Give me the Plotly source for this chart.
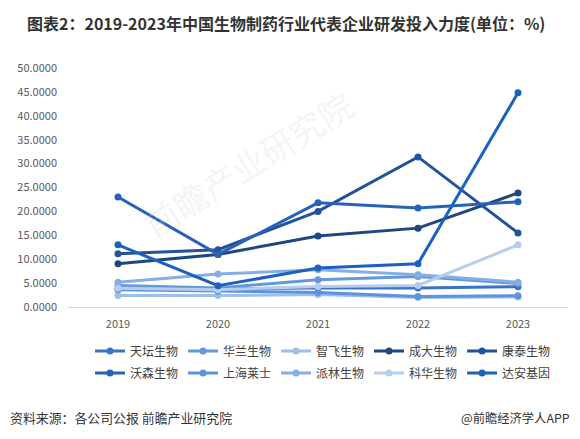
import plotly.graph_objects as go

years = ["2019", "2020", "2021", "2022", "2023"]
companies = ["天坛生物", "华兰生物", "智飞生物", "成大生物", "康泰生物",
             "沃森生物", "上海莱士", "派林生物", "科华生物", "达安基因"]
tiantan = [3.8, 3.8, 4.0, 4.0, 4.25]
hualan = [4.5, 4.0, 5.7, 6.4, 4.9]
zhifei = [2.4, 2.4, 2.6, 2.0, 2.1]
chengda = [9.06, 11.0, 14.85, 16.5, 23.85]
kangtai = [11.15, 12.0, 20.0, 31.4, 15.5]
wosen = [23.0, 11.0, 21.8, 20.7, 22.0]
shanghai = [3.6, 3.3, 3.05, 2.2, 2.35]
pailin = [5.2, 6.9, 7.8, 6.75, 5.2]
kehua = [3.9, 3.6, 4.3, 4.5, 13.0]
daan = [13.0, 4.45, 8.15, 9.06, 44.8]
series = [tiantan, hualan, zhifei, chengda, kangtai, wosen, shanghai, pailin, kehua, daan]
colors = ["#3A73C4", "#6499D8", "#9DC0EA", "#1F477F", "#22529A",
          "#2862B6", "#5C93DC", "#86AEE3", "#B5CEEE", "#1E60BE"]
y_ticks = [0, 5, 10, 15, 20, 25, 30, 35, 40, 45, 50]

font = "Noto Sans CJK SC"
fig = go.Figure()
for i, (name, vals, c) in enumerate(zip(companies, series, colors)):
    fig.add_trace(go.Scatter(
        x=years, y=vals, name=name, mode="lines+markers",
        line=dict(color=c, width=3), marker=dict(color=c, size=7),
        legend="legend" if i < 5 else "legend2",
    ))

leg_common = dict(orientation="h", xanchor="left", yanchor="middle",
                  font=dict(family=font, size=12, color="#404040"),
                  itemwidth=30, bgcolor="rgba(0,0,0,0)",
                  xref="container", yref="container")

fig.update_layout(
    width=580, height=439,
    margin=dict(l=68, r=12, t=68, b=132, autoexpand=False),
    paper_bgcolor="white", plot_bgcolor="white",
    font=dict(family=font, size=11, color="#595959"),
    showlegend=True,
    legend=dict(x=90 / 580, y=1 - 351 / 439, **leg_common),
    legend2=dict(x=90 / 580, y=1 - 373 / 439, **leg_common),
    xaxis=dict(type="category", range=[-0.5, 4.5], showgrid=False,
               showline=True, linecolor="#D9D9D9", linewidth=1, ticks="",
               ticklabelstandoff=7,
               tickfont=dict(size=11, color="#595959"), zeroline=False),
    yaxis=dict(range=[0, 50], tickvals=y_ticks,
               ticktext=[f"{v:.4f}" for v in y_ticks], showgrid=False,
               zeroline=False, showline=False, ticks="", ticklabelstandoff=10,
               tickfont=dict(size=11, color="#595959")),
)

fig.add_annotation(text="<b>图表2：2019-2023年中国生物制药行业代表企业研发投入力度(单位：%)</b>",
                   xref="paper", yref="paper", x=-0.086, y=1.19, xanchor="left", yanchor="middle",
                   showarrow=False, font=dict(family=font, size=16, color="#333333"))
fig.add_annotation(text="资料来源：各公司公报 前瞻产业研究院", xref="paper", yref="paper",
                   x=-0.12, y=-0.464, xanchor="left", yanchor="middle", showarrow=False,
                   font=dict(family=font, size=12.9, color="#333333"))
fig.add_annotation(text="@前瞻经济学人APP", xref="paper", yref="paper",
                   x=1.008, y=-0.464, xanchor="right", yanchor="middle", showarrow=False,
                   font=dict(family=font, size=12.3, color="#333333"))
fig.add_annotation(text="前瞻产业研究院", xref="paper", yref="paper",
                   x=0.36, y=0.6, showarrow=False, textangle=-32,
                   font=dict(family=font, size=34, color="rgba(200,205,215,0.22)"))

fig.write_html("out.html", post_script="document.body.style.margin='0';",
               config={"displayModeBar": False})
